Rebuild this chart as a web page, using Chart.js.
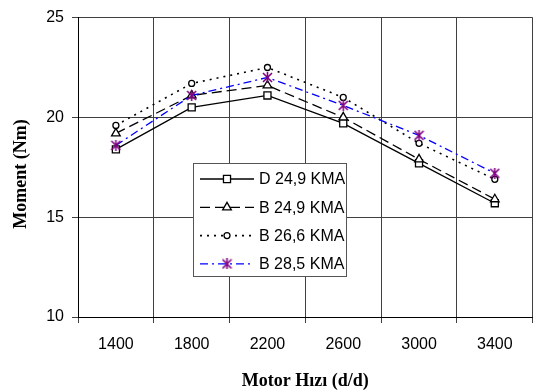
<!DOCTYPE html>
<html>
<head>
<meta charset="utf-8">
<script src="https://cdn.jsdelivr.net/npm/chart.js@4/dist/chart.umd.min.js"></script>
<style>
  html, body { margin: 0; padding: 0; background: #fff; overflow: hidden; }
  #wrap { width: 539px; height: 390px; }
</style>
</head>
<body>
<div id="wrap"><canvas id="c" width="539" height="390"></canvas></div>
<script>
// Engine speed categories (rpm)
const speeds = ['1400', '1800', '2200', '2600', '3000', '3400'];
// Series names
const seriesNames = ['D 24,9 KMA', 'B 24,9 KMA', 'B 26,6 KMA', 'B 28,5 KMA'];
// Torque (Nm) per series
const momentD249 = [18.4, 20.5, 21.1, 19.7, 17.7, 15.7];
const momentB249 = [19.2, 21.1, 21.6, 20.0, 17.9, 15.9];
const momentB266 = [19.6, 21.7, 22.5, 21.0, 18.7, 16.9];
const momentB285 = [18.6, 21.1, 22.0, 20.6, 19.1, 17.2];
// Value axis ticks
const yTicks = [10, 15, 20, 25];

// Asterisk-style marker: an X crossed by a vertical stroke
function starMarker(size, color) {
  const c = document.createElement('canvas');
  c.width = size; c.height = size;
  const g = c.getContext('2d');
  g.strokeStyle = color;
  g.lineWidth = 1.6;
  const m = size / 2, r = size / 2 - 1;
  g.beginPath();
  g.moveTo(m - r, m - r); g.lineTo(m + r, m + r);
  g.moveTo(m + r, m - r); g.lineTo(m - r, m + r);
  g.moveTo(m, 0); g.lineTo(m, size);
  g.stroke();
  return c;
}
const star = starMarker(11, '#800080');

const datasets = [
  { label: seriesNames[0], data: momentD249, borderColor: '#000', borderWidth: 1.3, borderDash: [],
    pointStyle: 'rect', pointRadius: 5, pointBackgroundColor: '#fff', pointBorderColor: '#000', pointBorderWidth: 1.3, order: 3 },
  { label: seriesNames[1], data: momentB249, borderColor: '#000', borderWidth: 1.3, borderDash: [10, 5],
    pointStyle: 'triangle', pointRadius: 5, pointBackgroundColor: '#fff', pointBorderColor: '#000', pointBorderWidth: 1.3, order: 2 },
  { label: seriesNames[2], data: momentB266, borderColor: '#000', borderWidth: 1.6, borderDash: [2, 5],
    pointStyle: 'circle', pointRadius: 3, pointBackgroundColor: '#fff', pointBorderColor: '#000', pointBorderWidth: 1.3, order: 1 },
  { label: seriesNames[3], data: momentB285, borderColor: '#0000ff', borderWidth: 1.3, borderDash: [8, 4, 2, 4],
    pointStyle: star, pointRadius: 5, pointBackgroundColor: '#800080', pointBorderColor: '#800080', pointBorderWidth: 1, order: 0 }
];

// Boxed legend placed inside the plot area
const boxLegend = {
  id: 'boxLegend',
  afterDraw(chart) {
    const ctx = chart.ctx;
    const x0 = 193.5, y0 = 163.5, w = 153, h = 113;
    ctx.save();
    ctx.fillStyle = '#fff';
    ctx.fillRect(x0, y0, w, h);
    ctx.strokeStyle = '#555';
    ctx.lineWidth = 1;
    ctx.strokeRect(x0, y0, w, h);
    chart.data.datasets.forEach((ds, i) => {
      const y = 179 + i * 28.3;
      ctx.strokeStyle = ds.borderColor;
      ctx.lineWidth = ds.borderWidth;
      ctx.setLineDash(ds.borderDash || []);
      ctx.beginPath();
      ctx.moveTo(200, y); ctx.lineTo(254, y);
      ctx.stroke();
      ctx.setLineDash([]);
      ctx.fillStyle = ds.pointBackgroundColor;
      ctx.strokeStyle = ds.pointBorderColor;
      ctx.lineWidth = ds.pointBorderWidth;
      Chart.helpers.drawPoint(ctx, { pointStyle: ds.pointStyle, radius: ds.pointRadius,
        borderWidth: ds.pointBorderWidth, rotation: 0 }, 227, y);
      ctx.fillStyle = '#000';
      ctx.font = '16px "Liberation Sans", Arial, sans-serif';
      ctx.textBaseline = 'middle';
      ctx.textAlign = 'left';
      ctx.fillText(ds.label, 259, y + 1);
    });
    ctx.restore();
  }
};

const tickFont = { family: '"Liberation Sans", Arial, sans-serif', size: 16 };
const titleFont = { family: '"Liberation Serif", "Times New Roman", serif', size: 18, weight: 'bold', lineHeight: 1 };

new Chart(document.getElementById('c'), {
  type: 'line',
  data: { labels: speeds, datasets: datasets },
  options: {
    responsive: false,
    animation: false,
    layout: { padding: { top: 15, right: 0, bottom: 0, left: 0 } },
    elements: { line: { tension: 0, fill: false } },
    plugins: { legend: { display: false }, tooltip: { enabled: false } },
    scales: {
      x: {
        type: 'category',
        offset: true,
        grid: { offset: true, color: '#404040', lineWidth: 1, tickLength: 6 },
        border: { color: '#000', width: 1 },
        ticks: { color: '#000', font: tickFont, padding: 12, maxRotation: 0, autoSkip: false },
        title: { display: true, text: 'Motor Hızı (d/d)', color: '#000', font: titleFont, padding: { top: 0, bottom: 0 } },
        afterFit(s) { s.height = 73; }
      },
      y: {
        min: 10,
        max: 25,
        afterBuildTicks(s) { s.ticks = yTicks.map(v => ({ value: v })); },
        grid: { color: '#404040', lineWidth: 1, tickLength: 6 },
        border: { color: '#000', width: 1 },
        ticks: { color: '#000', font: tickFont, padding: 8 },
        title: { display: true, text: 'Moment (Nm)\u00A0\u00A0\u00A0', color: '#000', font: titleFont, padding: { top: 12, bottom: 0 } },
        afterFit(s) { s.width = 78; }
      }
    }
  },
  plugins: [boxLegend]
});
</script>
</body>
</html>
